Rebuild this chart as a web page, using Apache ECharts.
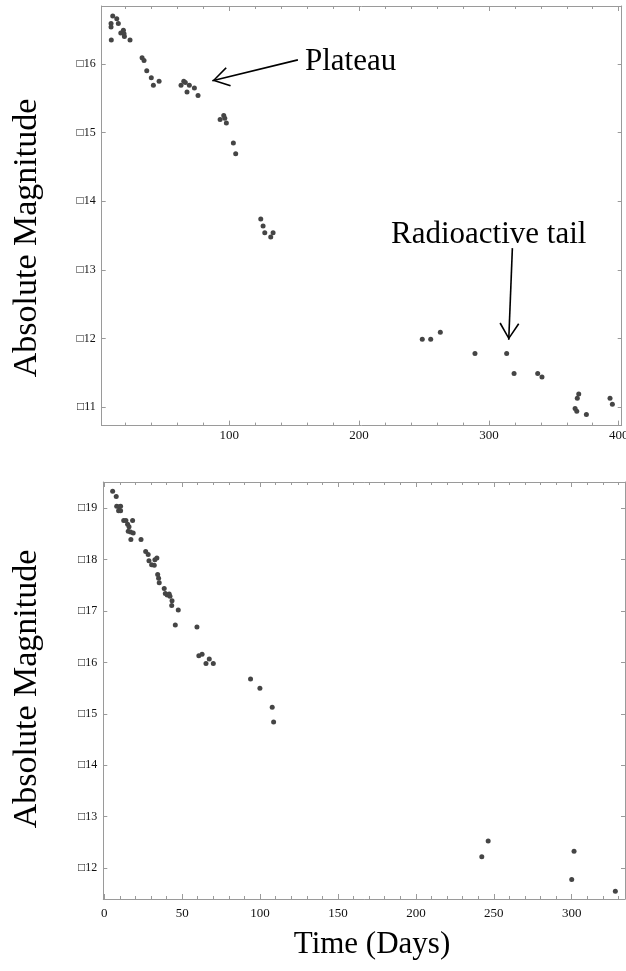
<!DOCTYPE html>
<html>
<head>
<meta charset="utf-8">
<script src="https://cdn.jsdelivr.net/npm/echarts@6/dist/echarts.min.js"></script>
<style>
html,body{margin:0;padding:0;background:#fff;}
#chart{width:626px;height:971px;}
</style>
</head>
<body>
<div id="chart"></div>
<script>
// ---- Top panel data (days, absolute magnitude) ----
var topDays = [10.3, 13.4, 14.6, 9.0, 9.0, 16.5, 18.5, 19.0, 19.3, 23.6, 9.2,
  32.9, 34.4, 36.5, 40.0, 41.6, 46.0, 62.9, 65.0, 66.2, 67.5, 69.3, 73.2, 76.0,
  93.0, 95.8, 96.6, 97.8, 103.2, 105.0,
  124.3, 126.1, 127.4, 132.0, 133.8,
  248.7, 255.2, 262.6, 289.3, 313.7, 319.4, 337.6, 340.9,
  369.2, 368.1, 366.4, 367.7, 375.1, 393.3, 395.1];
var topMags = [-16.70, -16.66, -16.59, -16.59, -16.54, -16.45, -16.49, -16.44, -16.40, -16.35, -16.35,
  -16.09, -16.05, -15.90, -15.80, -15.69, -15.75, -15.69, -15.75, -15.73, -15.59, -15.69, -15.65, -15.54,
  -15.19, -15.25, -15.21, -15.14, -14.85, -14.69,
  -13.74, -13.64, -13.54, -13.48, -13.54,
  -11.99, -11.99, -12.09, -11.78, -11.78, -11.49, -11.49, -11.44,
  -11.19, -11.13, -10.98, -10.94, -10.89, -11.13, -11.04];

// ---- Bottom panel data ----
var botDays = [5.4, 7.7, 8.0, 9.6, 10.5, 9.2, 10.5, 12.5, 13.9, 15.0, 15.9, 18.2, 15.4, 16.9, 18.6,
  17.1, 23.6, 26.6, 28.2, 28.7, 30.4, 32.1, 32.5, 33.8, 34.3, 34.9, 35.3, 38.5, 39.2, 40.4,
  41.7, 42.2, 43.5, 43.3, 47.5, 45.6, 59.5, 60.7, 62.8, 65.3, 67.4, 70.0, 93.9, 99.9,
  107.8, 108.7, 242.3, 246.4, 300.0, 301.5, 328.0];
var botMags = [-19.33, -19.23, -19.04, -19.03, -19.04, -18.95, -18.95, -18.76, -18.76, -18.69, -18.64, -18.76, -18.55, -18.54, -18.52,
  -18.39, -18.39, -18.16, -18.10, -17.98, -17.90, -17.89, -18.00, -18.03, -17.71, -17.64, -17.55, -17.44, -17.34, -17.31,
  -17.33, -17.29, -17.20, -17.11, -17.02, -16.73, -16.69, -16.13, -16.16, -15.98, -16.07, -15.98, -15.68, -15.50,
  -15.13, -14.84, -12.22, -12.53, -11.78, -12.33, -11.55];

// ---- Tick values ----
var topXMajor = [100, 200, 300, 400];
var topXMinor = [20, 40, 60, 80, 120, 140, 160, 180, 220, 240, 260, 280, 320, 340, 360, 380];
var topYMajor = [-16, -15, -14, -13, -12, -11];
var botXMajor = [0, 50, 100, 150, 200, 250, 300];
var botXMinor = [10, 20, 30, 40, 60, 70, 80, 90, 110, 120, 130, 140, 160, 170, 180, 190,
  210, 220, 230, 240, 260, 270, 280, 290, 310, 320, 330];
var botYMajor = [-19, -18, -17, -16, -15, -14, -13, -12];

// ---- Annotations (data coords) ----
var plateauArrow = [[152.9, -16.06], [87.0, -15.757]];
var tailArrow = [[318.1, -13.316], [315.3, -11.98]];

var FONT = '"Liberation Serif", "Times New Roman", serif';
var AXC = '#9a9a9a';
var chevron = 'path://M10,0 L10.02,0 L10,0.02 Z M10,17 L20,33 L18.6,34 L10,19.8 L1.4,34 L0,33 Z';

function pairs(xs, ys) { return xs.map(function (x, i) { return [x, ys[i]]; }); }
function yFmt(v) { return String(v).replace('-', '\u25A1'); }

function xAx(grid, pos, min, max, ticks, len, labels, lineShow, margin) {
  return {
    type: 'value', gridIndex: grid, position: pos, min: min, max: max,
    axisLine: { show: lineShow, onZero: false, lineStyle: { color: AXC, width: 1 } },
    axisTick: { show: true, inside: true, length: len, customValues: ticks, lineStyle: { color: AXC, width: 1 } },
    axisLabel: labels ? { show: true, customValues: labels, margin: margin, color: '#111', fontFamily: FONT, fontSize: 13, hideOverlap: false } : { show: false },
    splitLine: { show: false }
  };
}
function yAx(grid, pos, min, max, ticks, labels) {
  return {
    type: 'value', gridIndex: grid, position: pos, min: min, max: max, inverse: true,
    axisLine: { show: true, onZero: false, lineStyle: { color: AXC, width: 1 } },
    axisTick: { show: true, inside: true, length: 4, customValues: ticks, lineStyle: { color: AXC, width: 1 } },
    axisLabel: labels ? { show: true, customValues: labels, margin: 6, color: '#111', fontFamily: FONT, fontSize: 12, formatter: yFmt } : { show: false },
    splitLine: { show: false }
  };
}

function arrowLine(seg) {
  return {
    silent: true, animation: false,
    symbol: ['none', chevron], symbolSize: [20, 34],
    label: { show: false },
    lineStyle: { color: '#000', width: 1.6, type: 'solid' },
    emphasis: { disabled: true },
    data: [[{ coord: seg[0] }, { coord: seg[1] }]]
  };
}

var chart = echarts.init(document.getElementById('chart'), null, { renderer: 'canvas' });
chart.setOption({
  animation: false,
  backgroundColor: '#fff',
  grid: [
    { left: 101.7, top: 6, width: 520, height: 419.6, containLabel: false, outerBoundsMode: 'none' },
    { left: 103.3, top: 482, width: 521.7, height: 417, containLabel: false, outerBoundsMode: 'none' }
  ],
  xAxis: [
    xAx(0, 'bottom', 1.8, 402.3, topXMajor, 5, topXMajor, true, 3),
    xAx(0, 'bottom', 1.8, 402.3, topXMinor, 3, null, false),
    xAx(0, 'top', 1.8, 402.3, topXMajor, 5, null, true),
    xAx(0, 'top', 1.8, 402.3, topXMinor, 3, null, false),
    xAx(1, 'bottom', -0.6, 334.2, botXMajor, 5, botXMajor, true, 8),
    xAx(1, 'bottom', -0.6, 334.2, botXMinor, 3, null, false),
    xAx(1, 'top', -0.6, 334.2, botXMajor, 5, null, true),
    xAx(1, 'top', -0.6, 334.2, botXMinor, 3, null, false)
  ],
  yAxis: [
    yAx(0, 'left', -16.845, -10.73, topYMajor, topYMajor),
    yAx(0, 'right', -16.845, -10.73, topYMajor, null),
    yAx(1, 'left', -19.51, -11.40, botYMajor, botYMajor),
    yAx(1, 'right', -19.51, -11.40, botYMajor, null)
  ],
  series: [
    {
      type: 'scatter', xAxisIndex: 0, yAxisIndex: 0, symbolSize: 5,
      itemStyle: { color: '#454545', opacity: 1 },
      data: pairs(topDays, topMags),
      markLine: arrowLine(plateauArrow)
    },
    {
      type: 'scatter', xAxisIndex: 0, yAxisIndex: 0, symbolSize: 0,
      data: [], markLine: arrowLine(tailArrow)
    },
    {
      type: 'scatter', xAxisIndex: 4, yAxisIndex: 2, symbolSize: 5,
      itemStyle: { color: '#454545', opacity: 1 },
      data: pairs(botDays, botMags)
    }
  ],
  graphic: [
    { type: 'text', left: 305, top: 46, style: { text: 'Plateau', font: '31px ' + FONT, fill: '#000' } },
    { type: 'text', left: 391, top: 219, style: { text: 'Radioactive tail', font: '31px ' + FONT, fill: '#000' } },
    { type: 'text', x: 372, y: 945, style: { text: 'Time (Days)', font: '31px ' + FONT, fill: '#000', align: 'center', verticalAlign: 'middle' } },
    { type: 'text', x: 27, y: 238, rotation: Math.PI / 2, style: { text: 'Absolute Magnitude', font: '34px ' + FONT, fill: '#000', align: 'center', verticalAlign: 'middle' } },
    { type: 'text', x: 27, y: 689, rotation: Math.PI / 2, style: { text: 'Absolute Magnitude', font: '34px ' + FONT, fill: '#000', align: 'center', verticalAlign: 'middle' } }
  ]
});
</script>
</body>
</html>
